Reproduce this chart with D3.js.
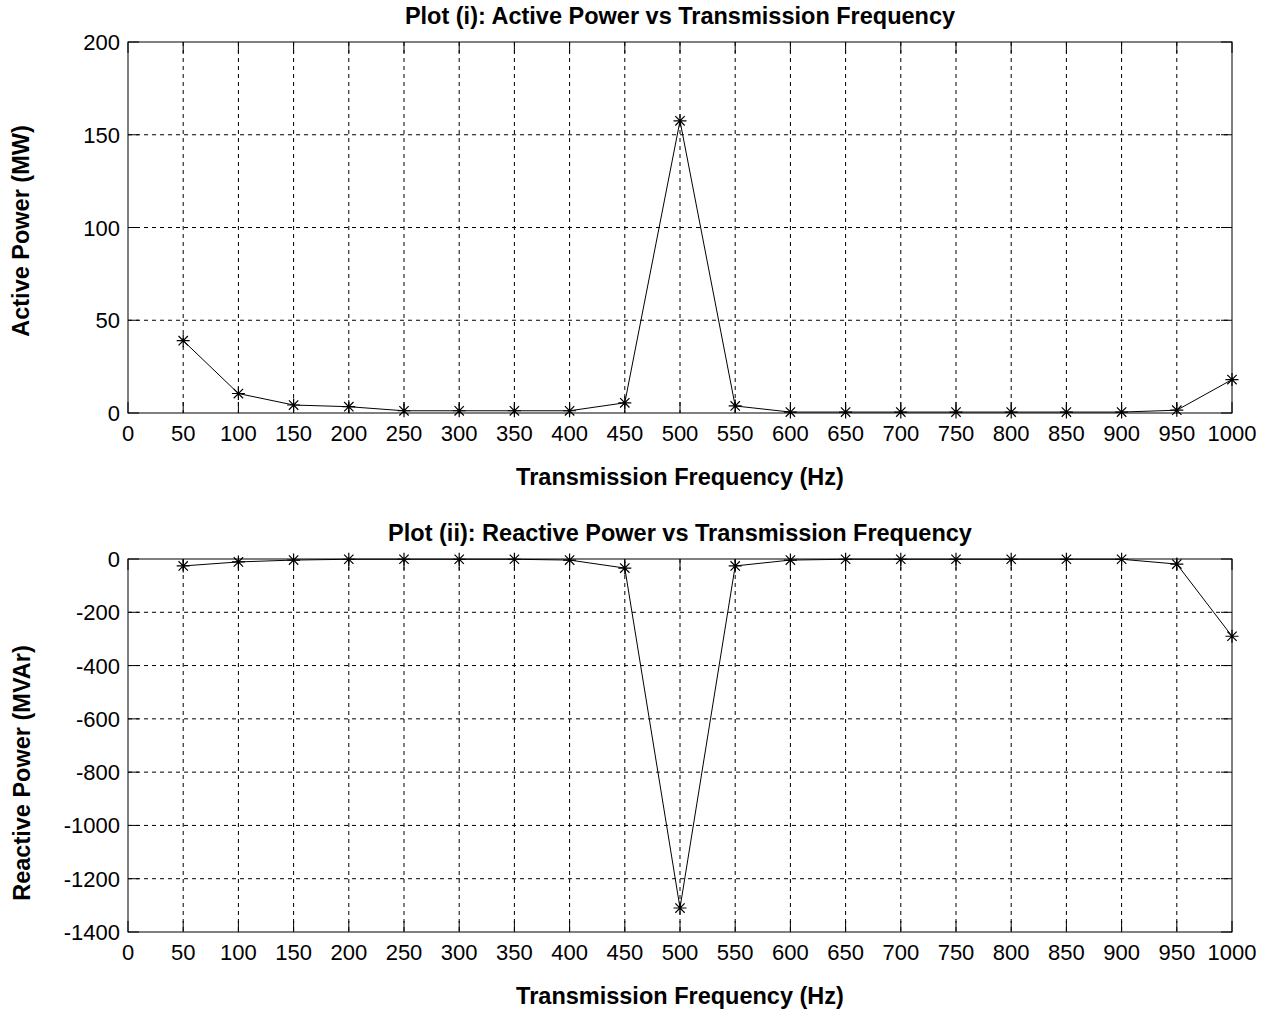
<!DOCTYPE html>
<html>
<head>
<meta charset="utf-8">
<script src="https://cdn.jsdelivr.net/npm/d3@7"></script>
<style>
  body { margin: 0; background: #fff; }
  svg { font-family: "Liberation Sans", Arial, sans-serif; }
  .tick-label { font-size: 22px; fill: #000; }
  .title, .axis-title { font-size: 23.5px; font-weight: bold; fill: #000; }
</style>
</head>
<body>
<script>
// frequencies (Hz)
let freqs = [50, 100, 150, 200, 250, 300, 350, 400, 450, 500,
             550, 600, 650, 700, 750, 800, 850, 900, 950, 1000];
// active power (MW) (i)
let activePower = [39, 10.5, 4.3, 3.4, 1.2, 1.2, 1.2, 1.2, 5.5, 157.5,
                   3.8, 0.5, 0.5, 0.5, 0.5, 0.5, 0.5, 0.5, 1.5, 18];
// reactive power (MVAr) (ii)
let reactivePower = [-26, -11, -4, -1, -1, -1, -1, -4, -34, -1310,
                     -26, -4, -1, -1, -1, -1, -1, -1, -19, -290];

let xTicks = d3.range(0, 1001, 50);
let yTicks1 = [0, 50, 100, 150, 200];
let yTicks2 = [-1400, -1200, -1000, -800, -600, -400, -200, 0];

let w = 1275;
let h = 1016;

let svg = d3.select('body').append('svg').attr('width', w).attr('height', h);

// asterisk marker: plus + times
function starPath(r) {
  let d = r * 0.72;
  return `M${-r},0L${r},0M0,${-r}L0,${r}` +
         `M${-d},${-d}L${d},${d}M${-d},${d}L${d},${-d}`;
}

function drawPanel(opts) {
  let left = 128, right = 1232;
  let xScale = d3.scaleLinear().domain([0, 1000]).range([left, right]);
  let yScale = d3.scaleLinear().domain(opts.yDomain).range([opts.bottom, opts.top]);
  let g = svg.append('g');
  let tickLen = 11;

  // grid lines (dotted), skip the ones on the box edges
  g.selectAll('.vgrid')
    .data(xTicks.filter((t) => t > 0 && t < 1000))
    .enter()
    .append('line')
    .attr('x1', (d) => xScale(d)).attr('x2', (d) => xScale(d))
    .attr('y1', opts.top).attr('y2', opts.bottom)
    .style('stroke', '#000').style('stroke-width', 1)
    .style('stroke-dasharray', '4,4');

  g.selectAll('.hgrid')
    .data(opts.yTicks.filter((t) => t > opts.yDomain[0] && t < opts.yDomain[1]))
    .enter()
    .append('line')
    .attr('y1', (d) => yScale(d)).attr('y2', (d) => yScale(d))
    .attr('x1', left).attr('x2', right)
    .style('stroke', '#000').style('stroke-width', 1)
    .style('stroke-dasharray', '4,4');

  // inward ticks on all four sides
  xTicks.forEach((t) => {
    let x = xScale(t);
    g.append('line').attr('x1', x).attr('x2', x)
      .attr('y1', opts.bottom).attr('y2', opts.bottom - tickLen)
      .style('stroke', '#000');
    g.append('line').attr('x1', x).attr('x2', x)
      .attr('y1', opts.top).attr('y2', opts.top + tickLen)
      .style('stroke', '#000');
  });
  opts.yTicks.forEach((t) => {
    let y = yScale(t);
    g.append('line').attr('y1', y).attr('y2', y)
      .attr('x1', left).attr('x2', left + tickLen)
      .style('stroke', '#000');
    g.append('line').attr('y1', y).attr('y2', y)
      .attr('x1', right).attr('x2', right - tickLen)
      .style('stroke', '#000');
  });

  // box
  g.append('rect')
    .attr('x', left).attr('y', opts.top)
    .attr('width', right - left).attr('height', opts.bottom - opts.top)
    .style('fill', 'none').style('stroke', '#000').style('stroke-width', 1);

  // tick labels
  g.selectAll('.xlab')
    .data(xTicks)
    .enter()
    .append('text')
    .attr('class', 'tick-label')
    .attr('x', (d) => xScale(d))
    .attr('y', opts.bottom + 28)
    .attr('text-anchor', 'middle')
    .text((d) => d);

  g.selectAll('.ylab')
    .data(opts.yTicks)
    .enter()
    .append('text')
    .attr('class', 'tick-label')
    .attr('x', left - 8)
    .attr('y', (d) => yScale(d) + 8)
    .attr('text-anchor', 'end')
    .text((d) => d);

  // data line
  let line = d3.line()
    .x((d, i) => xScale(freqs[i]))
    .y((d) => yScale(d));
  g.append('path')
    .datum(opts.values)
    .attr('d', line)
    .style('fill', 'none').style('stroke', '#000').style('stroke-width', 1);

  g.selectAll('.mark')
    .data(opts.values)
    .enter()
    .append('path')
    .attr('transform', (d, i) => `translate(${xScale(freqs[i])},${yScale(d)})`)
    .attr('d', starPath(6.5))
    .style('fill', 'none').style('stroke', '#000').style('stroke-width', 1.2);

  // titles
  g.append('text').attr('class', 'title')
    .attr('x', (left + right) / 2).attr('y', opts.top - 18)
    .attr('text-anchor', 'middle')
    .text(opts.title);

  g.append('text').attr('class', 'axis-title')
    .attr('x', (left + right) / 2).attr('y', opts.bottom + 72)
    .attr('text-anchor', 'middle')
    .text('Transmission Frequency (Hz)');

  g.append('text').attr('class', 'axis-title')
    .attr('transform', `translate(${opts.yLabelX},${opts.yLabelY}) rotate(-90)`)
    .attr('text-anchor', 'middle')
    .text(opts.yLabel);
}

drawPanel({
  top: 42, bottom: 413,
  yDomain: [0, 200], yTicks: yTicks1,
  values: activePower,
  title: 'Plot (i): Active Power vs Transmission Frequency',
  yLabel: 'Active Power (MW)',
  yLabelX: 29, yLabelY: 231
});

drawPanel({
  top: 559, bottom: 932,
  yDomain: [-1400, 0], yTicks: yTicks2,
  values: reactivePower,
  title: 'Plot (ii): Reactive Power vs Transmission Frequency',
  yLabel: 'Reactive Power (MVAr)',
  yLabelX: 30, yLabelY: 773
});
</script>
</body>
</html>
